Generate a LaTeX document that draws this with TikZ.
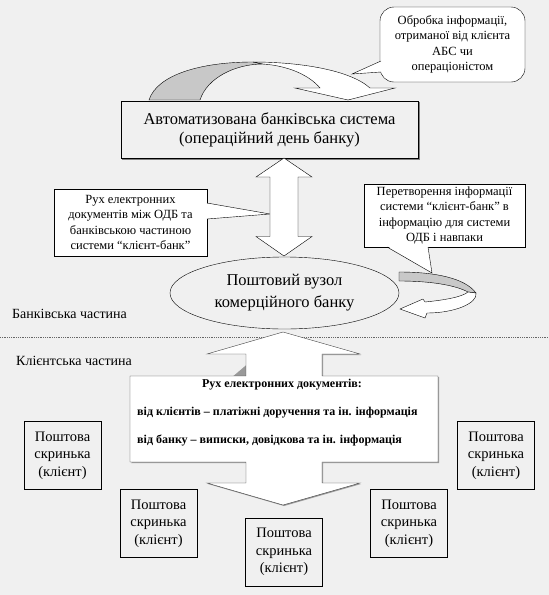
\documentclass[tikz,border=0pt]{standalone}
\usepackage{fontspec}
\setmainfont{Liberation Serif}
\usetikzlibrary{shapes.geometric}
\definecolor{bg}{RGB}{240,240,240}
\definecolor{band}{RGB}{200,200,200}

\begin{document}
\begin{tikzpicture}[x=1pt,y=-1pt]
    \tikzset{mailbox/.style = {shape=rectangle, draw, inner sep=0pt, align=center, minimum width=77pt, minimum height=68pt, font=\fontsize{14.5}{17.5}\selectfont}}
    \tikzset{note/.style = {shape=rectangle, draw, fill=white, inner sep=0pt, align=center, font=\fontsize{12.5}{15.5}\selectfont}}
    \tikzset{block/.style = {draw=black, fill=white, line join=miter}}
    \tikzset{part/.style = {anchor=west, inner sep=0pt, font=\fontsize{14}{16}\selectfont}}
    \tikzset{flow/.style = {inner sep=0pt, font=\fontsize{12}{14}\selectfont\bfseries}}

    \fill[bg] (0,0) rectangle (549,595);
    \useasboundingbox (0,0) rectangle (549,595);

    % dividing line
    \draw[black!60, dash pattern=on 0.8pt off 1pt] (0,337) -- (549,337);

    % curved arrow over the system
    \filldraw[fill=band] (149,100) .. controls (157,75) and (200,62) .. (253,62) -- (263,64)
        .. controls (235,64) and (207,78) .. (200,100) -- cycle;
    \filldraw[block] (253,62) .. controls (300,62) and (350,70) .. (370,88) -- (395,88) -- (348,100)
        -- (295,88) -- (320,88) .. controls (310,76) and (290,66) .. (263,64) -- cycle;

    % nodes
    \fill[black!50] (122,102) rectangle (419.5,159.5);
    \node[shape=rectangle, draw, line width=1pt, fill=bg, inner sep=0pt, minimum width=297pt, minimum height=57pt,
        align=center, font=\fontsize{16.5}{19}\selectfont] (abs) at (269.5,129.5)
        {Автоматизована банківська система\\(операційний день банку)};
    \node[note, rounded corners=14pt, minimum width=145pt, minimum height=75pt] (proc) at (452.5,44.5)
        {Обробка інформації,\\отриманої від клієнта\\АБС чи\\операціоністом};
    \node[note, minimum width=153pt, minimum height=67pt] (move) at (130.5,222.5)
        {Рух електронних\\документів між ОДБ та\\банківською частиною\\системи “клієнт-банк”};
    \node[note, minimum width=161pt, minimum height=63pt] (conv) at (444.5,215.5)
        {Перетворення інформації\\системи “клієнт-банк” в\\інформацію для системи\\ОДБ і навпаки};
    \node[shape=ellipse, draw, fill=bg, inner sep=0pt, minimum width=229pt, minimum height=72pt,
        align=center, font=\fontsize{16.5}{22}\selectfont] (post) at (284.5,293)
        {Поштовий вузол\\комерційного банку};
    \node[part] (bank) at (12,313.5) {Банківська частина};
    \node[part] (client) at (16,361) {Клієнтська частина};

    % callout pointers
    \fill[white] (352,74) -- (381,61) -- (381,72) -- cycle;
    \draw (381,61) -- (352,74) -- (381,72);
    \fill[white] (270,214) -- (206,203) -- (206,219) -- cycle;
    \draw (207,203) -- (270,214) -- (207,219);
    \fill[white] (432,273) -- (387,246) -- (428,246) -- cycle;
    \draw (387,247) -- (432,273) -- (428,247);

    % arrow between system and mail node
    \filldraw[block] (284,158) -- (312,177) -- (298,177) -- (298,236.5) -- (312,236.5) -- (284,256)
        -- (256,236.5) -- (270,236.5) -- (270,177) -- (256,177) -- cycle;

    % curved arrow round the mail node
    \filldraw[fill=band] (399,272) .. controls (435,272) and (465,278) .. (476,293) -- (468,292)
        .. controls (455,285) and (430,281) .. (399,281) -- cycle;
    \filldraw[block] (476,293) .. controls (478,303) and (455,313) .. (427,313) -- (425,318) -- (400,309)
        -- (423,299) -- (425,302) .. controls (445,300) and (462,297) .. (468,292) -- cycle;

    % documents flow
    \fill[black!40] (284,333) -- (361,355) -- (323,355) -- (323,377) -- (439,377) -- (439,463) -- (323,463)
        -- (323,484) -- (361,484) -- (284,506) -- (208,484) -- (247,484) -- (247,463) -- (131,463) -- cycle;
    \filldraw[block, draw=black!75] (283,332) -- (360,354) -- (322,354) -- (322,376) -- (438,376) -- (438,462)
        -- (322,462) -- (322,483) -- (360,483) -- (283,505) -- (207,483) -- (246,483) -- (246,462)
        -- (130,462) -- (130,376) -- (246,376) -- (246,354) -- (207,354) -- cycle;
    \node[flow] (flowhead) at (282,385) {Рух електронних документів:};
    \node[flow, anchor=west] (flowin) at (137,413) {від клієнтів -- платіжні доручення та ін. інформація};
    \node[flow, anchor=west] (flowout) at (137,440) {від банку -- виписки, довідкова та ін. інформація};

    % mail boxes
    \node[mailbox] (m1) at (62.5,455.5) {Поштова\\скринька\\(клієнт)};
    \node[mailbox] (m2) at (158.5,523.5) {Поштова\\скринька\\(клієнт)};
    \node[mailbox] (m3) at (284,552) {Поштова\\скринька\\(клієнт)};
    \node[mailbox] (m4) at (409,523.5) {Поштова\\скринька\\(клієнт)};
    \node[mailbox] (m5) at (496,455.5) {Поштова\\скринька\\(клієнт)};
\end{tikzpicture}
\end{document}
